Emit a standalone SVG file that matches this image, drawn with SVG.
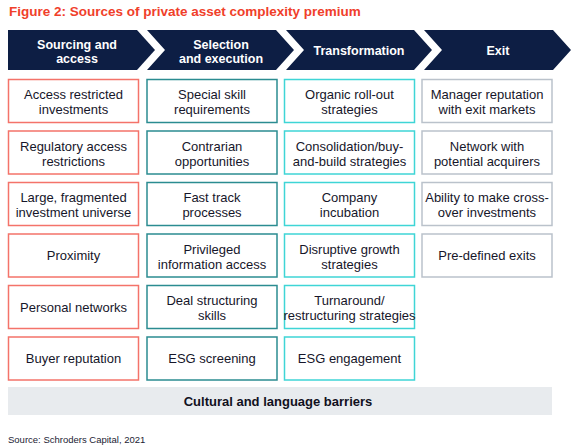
<svg xmlns="http://www.w3.org/2000/svg" width="586" height="447" viewBox="0 0 586 447">
<style>
text{font-family:"Liberation Sans",Arial,sans-serif}
.title{font-size:13.5px;font-weight:bold;fill:#f0402a}
.chev{fill:#0d1e44}
.ct{font-size:12.5px;font-weight:bold;fill:#ffffff;text-anchor:middle}
.box{fill:#ffffff;stroke-width:1.5}
.c1{stroke:#f4736a}
.c2{stroke:#2b8c91}
.c3{stroke:#3fd5d6}
.c4{stroke:#bac2cb}
.bt{font-size:13px;fill:#16162a;text-anchor:middle}
.bar{fill:#e8ebee}
.bart{font-size:13px;font-weight:bold;fill:#101020;text-anchor:middle}
.src{font-size:9.5px;fill:#222233}
</style>
<text class="title" x="9" y="16">Figure 2: Sources of private asset complexity premium</text>

<g id="stage-sourcing">
<path class="chev" d="M8,30 L137,30 L155,50 L137,70 L8,70 Z"/>
<text class="ct" x="77" y="49">Sourcing and</text>
<text class="ct" x="77" y="63">access</text>
</g>
<g id="stage-selection">
<path class="chev" d="M147,30 L276,30 L294,50 L276,70 L147,70 L165,50 Z"/>
<text class="ct" x="221" y="49">Selection</text>
<text class="ct" x="221" y="63">and execution</text>
</g>
<g id="stage-transformation">
<path class="chev" d="M286,30 L414,30 L432,50 L414,70 L286,70 L304,50 Z"/>
<text class="ct" x="359" y="55">Transformation</text>
</g>
<g id="stage-exit">
<path class="chev" d="M424,30 L553,30 L571,50 L553,70 L424,70 L442,50 Z"/>
<text class="ct" x="498" y="55">Exit</text>
</g>

<g id="connectors"></g>

<!-- Column 1 -->
<g id="c1r1"><rect class="box c1" x="8.5" y="79.5" width="130" height="43"/><text class="bt" x="73.5" y="99">Access restricted</text><text class="bt" x="73.5" y="114">investments</text></g>
<g id="c1r2"><rect class="box c1" x="8.5" y="131" width="130" height="43"/><text class="bt" x="73.5" y="150.5">Regulatory access</text><text class="bt" x="73.5" y="165.5">restrictions</text></g>
<g id="c1r3"><rect class="box c1" x="8.5" y="182.5" width="130" height="43"/><text class="bt" x="73.5" y="202">Large, fragmented</text><text class="bt" x="73.5" y="217">investment universe</text></g>
<g id="c1r4"><rect class="box c1" x="8.5" y="234" width="130" height="43"/><text class="bt" x="73.5" y="260">Proximity</text></g>
<g id="c1r5"><rect class="box c1" x="8.5" y="285.5" width="130" height="43"/><text class="bt" x="73.5" y="311.5">Personal networks</text></g>
<g id="c1r6"><rect class="box c1" x="8.5" y="337" width="130" height="43"/><text class="bt" x="73.5" y="363">Buyer reputation</text></g>

<!-- Column 2 -->
<g id="c2r1"><rect class="box c2" x="147" y="79.5" width="130" height="43"/><text class="bt" x="212" y="99">Special skill</text><text class="bt" x="212" y="114">requirements</text></g>
<g id="c2r2"><rect class="box c2" x="147" y="131" width="130" height="43"/><text class="bt" x="212" y="150.5">Contrarian</text><text class="bt" x="212" y="165.5">opportunities</text></g>
<g id="c2r3"><rect class="box c2" x="147" y="182.5" width="130" height="43"/><text class="bt" x="212" y="202">Fast track</text><text class="bt" x="212" y="217">processes</text></g>
<g id="c2r4"><rect class="box c2" x="147" y="234" width="130" height="43"/><text class="bt" x="212" y="253.5">Privileged</text><text class="bt" x="212" y="268.5">information access</text></g>
<g id="c2r5"><rect class="box c2" x="147" y="285.5" width="130" height="43"/><text class="bt" x="212" y="305">Deal structuring</text><text class="bt" x="212" y="320">skills</text></g>
<g id="c2r6"><rect class="box c2" x="147" y="337" width="130" height="43"/><text class="bt" x="212" y="363">ESG screening</text></g>

<!-- Column 3 -->
<g id="c3r1"><rect class="box c3" x="284.5" y="79.5" width="130" height="43"/><text class="bt" x="349.5" y="99">Organic roll-out</text><text class="bt" x="349.5" y="114">strategies</text></g>
<g id="c3r2"><rect class="box c3" x="284.5" y="131" width="130" height="43"/><text class="bt" x="349.5" y="150.5">Consolidation/buy-</text><text class="bt" x="349.5" y="165.5">and-build strategies</text></g>
<g id="c3r3"><rect class="box c3" x="284.5" y="182.5" width="130" height="43"/><text class="bt" x="349.5" y="202">Company</text><text class="bt" x="349.5" y="217">incubation</text></g>
<g id="c3r4"><rect class="box c3" x="284.5" y="234" width="130" height="43"/><text class="bt" x="349.5" y="253.5">Disruptive growth</text><text class="bt" x="349.5" y="268.5">strategies</text></g>
<g id="c3r5"><rect class="box c3" x="284.5" y="285.5" width="130" height="43"/><text class="bt" x="349.5" y="305">Turnaround/</text><text class="bt" x="349.5" y="320">restructuring strategies</text></g>
<g id="c3r6"><rect class="box c3" x="284.5" y="337" width="130" height="43"/><text class="bt" x="349.5" y="363">ESG engagement</text></g>

<!-- Column 4 -->
<g id="c4r1"><rect class="box c4" x="422" y="79.5" width="130" height="43"/><text class="bt" x="487" y="99">Manager reputation</text><text class="bt" x="487" y="114">with exit markets</text></g>
<g id="c4r2"><rect class="box c4" x="422" y="131" width="130" height="43"/><text class="bt" x="487" y="150.5">Network with</text><text class="bt" x="487" y="165.5">potential acquirers</text></g>
<g id="c4r3"><rect class="box c4" x="422" y="182.5" width="130" height="43"/><text class="bt" x="487" y="202">Ability to make cross-</text><text class="bt" x="487" y="217">over investments</text></g>
<g id="c4r4"><rect class="box c4" x="422" y="234" width="130" height="43"/><text class="bt" x="487" y="260">Pre-defined exits</text></g>

<g id="barrier">
<rect class="bar" x="8" y="387" width="544" height="28"/>
<text class="bart" x="278" y="406">Cultural and language barriers</text>
</g>

<text class="src" x="8" y="443">Source: Schroders Capital, 2021</text>
</svg>
